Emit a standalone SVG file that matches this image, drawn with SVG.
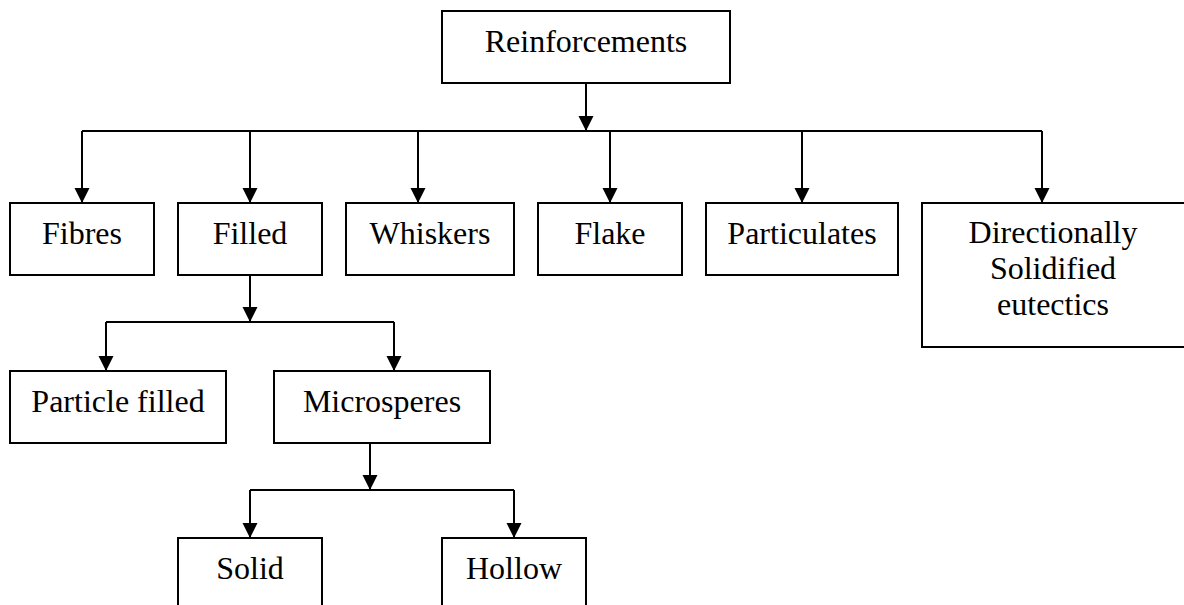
<svg xmlns="http://www.w3.org/2000/svg" width="1184" height="605" viewBox="0 0 1184 605">
<style>
.box{fill:#fff;stroke:#000;stroke-width:2}
.lbl{font-family:"Liberation Serif","Times New Roman",serif;font-size:32px;fill:#000;text-anchor:middle}
.ln{fill:none;stroke:#000;stroke-width:2}
</style>
<defs>
<marker id="ah" markerUnits="userSpaceOnUse" markerWidth="16" markerHeight="16" viewBox="0 0 16 16" refX="15" refY="8" orient="auto">
<path d="M0,0.5 L15,8 L0,15.5 Z" fill="#000"/>
</marker>
</defs>
<rect width="1184" height="605" fill="#fff"/>
<g id="connectors">
<path class="ln" d="M586,83 V131" marker-end="url(#ah)"/>
<path class="ln" d="M82,131 H1042"/>
<path class="ln" d="M82,131 V203" marker-end="url(#ah)"/>
<path class="ln" d="M250,131 V203" marker-end="url(#ah)"/>
<path class="ln" d="M418,131 V203" marker-end="url(#ah)"/>
<path class="ln" d="M610,131 V203" marker-end="url(#ah)"/>
<path class="ln" d="M802,131 V203" marker-end="url(#ah)"/>
<path class="ln" d="M1042,131 V203" marker-end="url(#ah)"/>
<path class="ln" d="M250,275 V322" marker-end="url(#ah)"/>
<path class="ln" d="M106,322 H394"/>
<path class="ln" d="M106,322 V371" marker-end="url(#ah)"/>
<path class="ln" d="M394,322 V371" marker-end="url(#ah)"/>
<path class="ln" d="M370,443 V490" marker-end="url(#ah)"/>
<path class="ln" d="M250,490 H514"/>
<path class="ln" d="M250,490 V538" marker-end="url(#ah)"/>
<path class="ln" d="M514,490 V538" marker-end="url(#ah)"/>
</g>
<g id="reinforcements"><rect class="box" x="442" y="11" width="288" height="72"/><text class="lbl" x="586" y="52">Reinforcements</text></g>
<g id="fibres"><rect class="box" x="10" y="203" width="144" height="72"/><text class="lbl" x="82" y="244">Fibres</text></g>
<g id="filled"><rect class="box" x="178" y="203" width="144" height="72"/><text class="lbl" x="250" y="244">Filled</text></g>
<g id="whiskers"><rect class="box" x="346" y="203" width="168" height="72"/><text class="lbl" x="430" y="244">Whiskers</text></g>
<g id="flake"><rect class="box" x="538" y="203" width="144" height="72"/><text class="lbl" x="610" y="244">Flake</text></g>
<g id="particulates"><rect class="box" x="706" y="203" width="192" height="72"/><text class="lbl" x="802" y="244">Particulates</text></g>
<g id="directionally"><rect class="box" x="922" y="203" width="270" height="144"/><text class="lbl" x="1053" y="243">Directionally</text><text class="lbl" x="1053" y="279">Solidified</text><text class="lbl" x="1053" y="315">eutectics</text></g>
<g id="particle-filled"><rect class="box" x="10" y="371" width="216" height="72"/><text class="lbl" x="118" y="412">Particle filled</text></g>
<g id="microsperes"><rect class="box" x="274" y="371" width="216" height="72"/><text class="lbl" x="382" y="412">Microsperes</text></g>
<g id="solid"><rect class="box" x="178" y="538" width="144" height="90"/><text class="lbl" x="250" y="579">Solid</text></g>
<g id="hollow"><rect class="box" x="442" y="538" width="144" height="90"/><text class="lbl" x="514" y="579">Hollow</text></g>
</svg>
